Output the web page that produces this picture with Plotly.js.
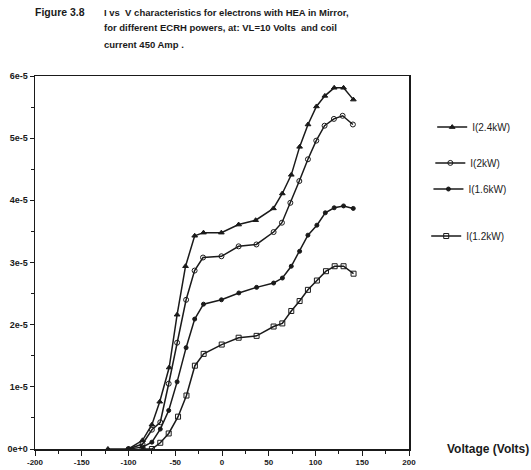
<!DOCTYPE html>
<html>
<head>
<meta charset="utf-8">
<script src="https://cdn.plot.ly/plotly-3.0.1.min.js"></script>
<style>html,body{margin:0;padding:0;background:#fff;}#chart{width:531px;height:470px;}</style>
</head>
<body>
<div id="chart"></div>
<script>
// Voltage (V) and current (units of 1e-5 A)
const UNIT = 1e-5;

const v24 = [-122, -100, -85, -75, -66.6, -56.5, -48, -39, -29.2, -19.8, -0.7, 17.8, 36, 55, 64.5, 74.1, 83, 92, 101, 110, 120, 130, 140.5];
const i24 = [0, 0, 0.14, 0.39, 0.76, 1.31, 2.16, 2.94, 3.43, 3.48, 3.48, 3.61, 3.68, 3.87, 4.11, 4.41, 4.86, 5.22, 5.51, 5.68, 5.81, 5.81, 5.62];

const v20 = [-100, -85, -75, -66, -57, -48, -38.4, -29.3, -20.3, -0.6, 17.8, 36.8, 55.2, 64.1, 73.1, 82.7, 91.9, 100.8, 109.7, 119.7, 129, 140];
const i20 = [0, 0.08, 0.31, 0.43, 1.05, 1.71, 2.40, 2.87, 3.08, 3.10, 3.26, 3.29, 3.49, 3.64, 3.96, 4.31, 4.66, 4.96, 5.20, 5.31, 5.36, 5.22];

const v16 = [-100, -85, -75, -66, -57, -48, -38.4, -29.2, -19.8, -0.6, 18, 37, 55.2, 64.6, 74.1, 83, 91.9, 101.5, 110.5, 120, 130, 140.4];
const i16 = [0, 0.03, 0.11, 0.32, 0.62, 1.08, 1.63, 2.09, 2.33, 2.40, 2.51, 2.60, 2.67, 2.75, 2.94, 3.18, 3.44, 3.60, 3.80, 3.88, 3.91, 3.87];

const v12 = [-85, -75, -66, -57, -47, -38, -29, -19.6, -0.3, 17.8, 37, 55.2, 64.5, 74.1, 83, 91.9, 101.5, 111.2, 120.5, 130, 140.7];
const i12 = [0, 0, 0.10, 0.25, 0.52, 0.86, 1.34, 1.53, 1.68, 1.79, 1.82, 1.97, 2.02, 2.22, 2.38, 2.56, 2.71, 2.86, 2.94, 2.94, 2.82];

const seriesNames = ["I(2.4kW)", "I(2kW)", "I(1.6kW)", "I(1.2kW)"];

const xTickVals = [-200, -150, -100, -50, 0, 50, 100, 150, 200];
const xTickText = ["-200", "-150", "-100", "-50", "0", "50", "100", "150", "200"];
const yTickVals = [0, 1, 2, 3, 4, 5, 6];
const yTickText = ["0e+0", "1e-5", "2e-5", "3e-5", "4e-5", "5e-5", "6e-5"];

const INK = "#1a1a1a";
const FONT = "Liberation Sans, Arial, sans-serif";

function mk(v, i, name, symbol, size, legendId) {
  return {
    x: v, y: i.map(a => a * UNIT), name: name, type: "scatter", mode: "lines+markers",
    line: {color: INK, width: 1.5},
    marker: {symbol: symbol, size: size, color: INK, line: {color: INK, width: 1}},
    legend: legendId, hoverinfo: "skip"
  };
}

const traces = [
  mk(v24, i24, seriesNames[0], "triangle-up", 5, "legend"),
  mk(v20, i20, seriesNames[1], "circle-open", 5, "legend2"),
  mk(v16, i16, seriesNames[2], "circle", 4, "legend3"),
  mk(v12, i12, seriesNames[3], "square-open", 5, "legend4")
];

const legBase = {xanchor: "left", yanchor: "middle", bgcolor: "rgba(0,0,0,0)", borderwidth: 0,
  font: {family: FONT, size: 10, color: INK}, itemwidth: 30, tracegroupgap: 0};
function leg(x, y) { return Object.assign({}, legBase, {x: x, y: y}); }

const layout = {
  width: 531, height: 470,
  margin: {l: 35, r: 122, t: 76, b: 21},
  paper_bgcolor: "#fff", plot_bgcolor: "#fff",
  showlegend: true,
  legend: leg(1.062, 0.863),
  legend2: leg(1.057, 0.767),
  legend3: leg(1.052, 0.697),
  legend4: leg(1.046, 0.571),
  font: {family: FONT, color: INK},
  xaxis: {
    range: [-200, 200], tickvals: xTickVals, ticktext: xTickText,
    ticks: "outside", ticklen: 5, tickwidth: 1, tickcolor: INK,
    minor: {dtick: 25, tick0: 0, ticks: "outside", ticklen: 3, tickcolor: INK, showgrid: false},
    showline: true, mirror: true, linecolor: INK, linewidth: 1.5,
    showgrid: false, zeroline: false,
    tickfont: {family: FONT, size: 8, color: INK, weight: "bold"}
  },
  yaxis: {
    range: [0, 6e-5], tickvals: yTickVals.map(a => a * UNIT), ticktext: yTickText,
    ticks: "outside", ticklen: 4, tickwidth: 1, tickcolor: INK,
    minor: {dtick: 0.5e-5, tick0: 0, ticks: "outside", ticklen: 3, tickcolor: INK, showgrid: false},
    showline: true, mirror: true, linecolor: INK, linewidth: 1.5,
    showgrid: false, zeroline: false,
    tickfont: {family: FONT, size: 9, color: INK, weight: "bold"}
  },
  annotations: [
    {text: "Figure 3.8", xref: "paper", yref: "paper", x: (33 - 35) / 374, y: (449 - 12) / 373,
     xanchor: "left", yanchor: "middle", showarrow: false, font: {family: FONT, size: 10.5, color: INK, weight: "bold"}},
    {text: "I vs  V characteristics for electrons with HEA in Mirror,", xref: "paper", yref: "paper",
     x: (102 - 35) / 374, y: (449 - 12) / 373, xanchor: "left", yanchor: "middle", showarrow: false,
     font: {family: FONT, size: 9.5, color: INK, weight: "bold"}},
    {text: "for different ECRH powers, at: VL=10 Volts  and coil", xref: "paper", yref: "paper",
     x: (102 - 35) / 374, y: (449 - 28) / 373, xanchor: "left", yanchor: "middle", showarrow: false,
     font: {family: FONT, size: 9.5, color: INK, weight: "bold"}},
    {text: "current 450 Amp .", xref: "paper", yref: "paper",
     x: (102 - 35) / 374, y: (449 - 45) / 373, xanchor: "left", yanchor: "middle", showarrow: false,
     font: {family: FONT, size: 9.5, color: INK, weight: "bold"}},
    {text: "Voltage (Volts)", xref: "paper", yref: "paper",
     x: (445 - 35) / 374, y: (449 - 449) / 373, xanchor: "left", yanchor: "middle", showarrow: false,
     font: {family: FONT, size: 12, color: INK, weight: "bold"}}
  ]
};

Plotly.newPlot("chart", traces, layout, {displayModeBar: false, staticPlot: true});
</script>
</body>
</html>
